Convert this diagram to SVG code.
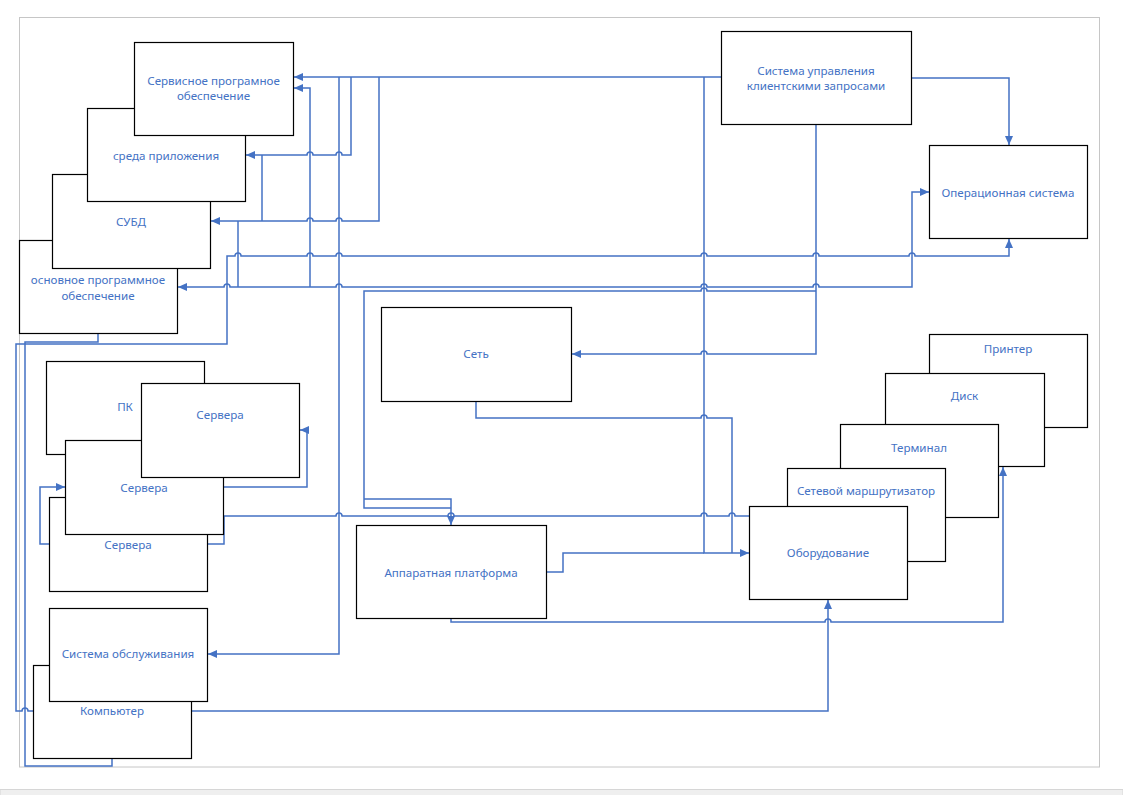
<svg xmlns="http://www.w3.org/2000/svg" width="1123" height="795" viewBox="0 0 1123 795">
<defs>
<style>
.n rect{fill:#fff;stroke:#000;stroke-width:1.2}
.n text{font-family:"Noto Sans","Open Sans",sans-serif;font-size:11.6px;fill:#4472C4;text-anchor:middle}
.c path{fill:none;stroke:#4472C4;stroke-width:1.5}
.ae{marker-end:url(#a)}
.ab{marker-start:url(#a);marker-end:url(#a)}
</style>
<marker id="a" viewBox="0 0 9 8" refX="9" refY="4" markerWidth="9" markerHeight="8" markerUnits="userSpaceOnUse" orient="auto-start-reverse">
<path d="M0,0 L9,4 L0,8 z" fill="#4472C4"/>
</marker>
</defs>
<rect x="0" y="0" width="1123" height="795" fill="#fff"/>
<rect x="19.5" y="17.5" width="1080" height="749.5" fill="none" stroke="#c6c6c6" stroke-width="1"/>
<rect x="0" y="789.5" width="1123" height="6" fill="#efefef" stroke="#d6d6d6" stroke-width="1"/>

<g id="connectors" class="c">
<path class="ae" d="M721,77 H294"/>
<path class="ae" d="M339,77 V654 H208"/>
<path class="ae" d="M351,77 V155 H342 a3,3 0 0 0 -6,0 H313 a3,3 0 0 0 -6,0 H246"/>
<path class="ae" d="M379,77 V221 H342 a3,3 0 0 0 -6,0 H313 a3,3 0 0 0 -6,0 H211"/>
<path d="M262,155 V221"/>
<path d="M238,221 V287"/>
<path class="ab" d="M178,287 H224 a3,3 0 0 1 6,0 H336 a3,3 0 0 1 6,0 H701 a3,3 0 0 1 6,0 H813 a3,3 0 0 1 6,0 H912 V192 H929"/>
<path class="ae" d="M310,287 V88 H294"/>
<path class="ae" d="M816,124 V354 H707 a3,3 0 0 0 -6,0 H572"/>
<path class="ae" d="M816,291 H707 a3,3 0 0 0 -6,0 H364 V508 H451 M364,499 H451 V525"/>
<path class="ae" d="M704,77 V553 H749"/>
<path d="M476,401 V418 H701 a3,3 0 0 1 6,0 H732 V553"/>
<path d="M546,572 H563 V553 H704"/>
<path class="ae" d="M911,78 H1009 V145"/>
<path class="ae" d="M33,711 H28 a3,3 0 0 0 -6,0 H16 V344 H227 V256 H235 a3,3 0 0 1 6,0 H307 a3,3 0 0 1 6,0 H336 a3,3 0 0 1 6,0 H701 a3,3 0 0 1 6,0 H813 a3,3 0 0 1 6,0 H909 a3,3 0 0 1 6,0 H1009 V239"/>
<path d="M98,333 V342 H25 V766 H112 V758"/>
<path class="ae" d="M191,711 H828 V600"/>
<path class="ae" d="M451,618 V622 H825 a3,3 0 0 1 6,0 H1003 V467"/>
<path class="ae" d="M223,487 H307 V430 H300"/>
<path class="ae" d="M49,544 H40 V487 H65"/>
<path d="M207,544 H224 V516 H336 a3,3 0 0 1 6,0 H448 a3,3 0 0 1 6,0 H701 a3,3 0 0 1 6,0 H729 a3,3 0 0 1 6,0 H749"/>
</g>

<g id="osnovnoe" class="n"><rect x="19.5" y="240.5" width="158" height="93"/><text x="98" y="283.5">основное программное</text><text x="98" y="299.5">обеспечение</text></g>
<g id="subd" class="n"><rect x="52.5" y="174.5" width="158" height="94"/><text x="131" y="225.5">СУБД</text></g>
<g id="sreda" class="n"><rect x="87.5" y="108.5" width="158" height="93"/><text x="166" y="159.5">среда приложения</text></g>
<g id="servisnoe" class="n"><rect x="134.5" y="42.5" width="159" height="93"/><text x="213.5" y="84.5">Сервисное програмное</text><text x="213.5" y="100">обеспечение</text></g>

<g id="crm" class="n"><rect x="721.5" y="31.5" width="190" height="93"/><text x="816" y="74.5">Система управления</text><text x="816" y="90">клиентскими запросами</text></g>
<g id="os" class="n"><rect x="929.5" y="145.5" width="158" height="93"/><text x="1008" y="196.5">Операционная система</text></g>
<g id="set" class="n"><rect x="381.5" y="307.5" width="190" height="94"/><text x="476" y="358">Сеть</text></g>
<g id="apparat" class="n"><rect x="356.5" y="525.5" width="190" height="93"/><text x="451" y="576.5">Аппаратная платформа</text></g>

<g id="printer" class="n"><rect x="929.5" y="334.5" width="158" height="93"/><text x="1008" y="352.5">Принтер</text></g>
<g id="disk" class="n"><rect x="885.5" y="373.5" width="159" height="93"/><text x="964.5" y="399.5">Диск</text></g>
<g id="terminal" class="n"><rect x="840.5" y="424.5" width="158" height="93"/><text x="919" y="451.5">Терминал</text></g>
<g id="router" class="n"><rect x="787.5" y="468.5" width="158" height="93"/><text x="866" y="494.5">Сетевой маршрутизатор</text></g>
<g id="oborud" class="n"><rect x="749.5" y="506.5" width="158" height="93"/><text x="828" y="557">Оборудование</text></g>

<g id="servera3" class="n"><rect x="49.5" y="497.5" width="158" height="94"/><text x="128" y="548.5">Сервера</text></g>
<g id="pk" class="n"><rect x="46.5" y="361.5" width="158" height="93"/><text x="125" y="411">ПК</text></g>
<g id="servera2" class="n"><rect x="65.5" y="440.5" width="158" height="94"/><text x="144" y="491.5">Сервера</text></g>
<g id="servera1" class="n"><rect x="141.5" y="383.5" width="158" height="94"/><text x="220" y="418.5">Сервера</text></g>

<g id="kompyuter" class="n"><rect x="33.5" y="665.5" width="158" height="93"/><text x="112" y="715">Компьютер</text></g>
<g id="obsluzh" class="n"><rect x="49.5" y="608.5" width="158" height="93"/><text x="128" y="658">Система обслуживания</text></g>
</svg>
